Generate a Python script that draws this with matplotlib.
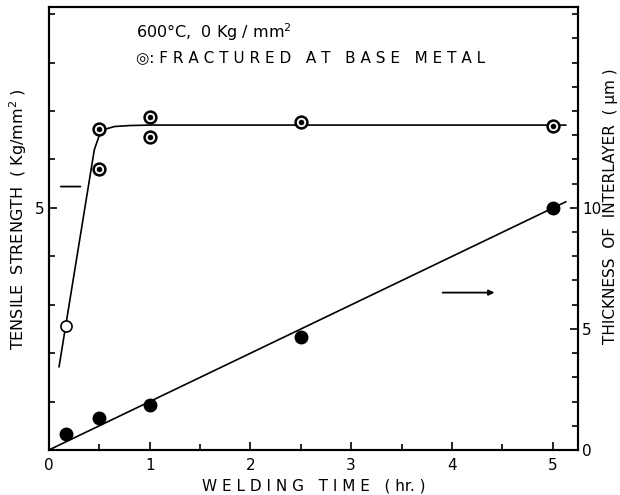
import numpy as np
import matplotlib.pyplot as plt

# tensile strength (Kg/mm2), left axis
ts_open_x = [0.17]
ts_open_y = [2.56]
ts_frac_x = [0.5, 0.5, 1.0, 1.0, 2.5, 5.0]
ts_frac_y = [6.63, 5.8, 6.88, 6.47, 6.78, 6.69]
ts_curve_x = [0.1, 0.45, 0.5, 0.55, 0.65, 0.8, 1.0, 5.13]
ts_curve_y = [1.72, 6.2, 6.5, 6.62, 6.68, 6.7, 6.71, 6.71]

# interlayer thickness (um), right axis
th_x = [0.17, 0.5, 1.0, 2.5, 5.0]
th_y = [0.66, 1.32, 1.86, 4.67, 10.0]
th_line_x = [0.0, 5.13]
th_line_y = [0.0, 10.25]

plt.rcParams['font.family'] = 'DejaVu Sans'
fig = plt.figure(figsize=(6.2, 4.95), dpi=100)
ax = fig.add_axes([0.079, 0.091, 0.853, 0.895])
ax2 = ax.twinx()

ax.plot(ts_curve_x, ts_curve_y, color='black', lw=1.2)
ax.plot(ts_open_x, ts_open_y, 'o', ms=8, mfc='white', mec='black', mew=1.2)
ax.plot(ts_frac_x, ts_frac_y, 'o', ms=8.5, mfc='white', mec='black', mew=1.8)
ax.plot(ts_frac_x, ts_frac_y, 'o', ms=3.5, mfc='black', mec='black', mew=0.5)

ax2.plot(th_line_x, th_line_y, color='black', lw=1.2)
ax2.plot(th_x, th_y, 'o', ms=9, color='black')

ax.set_xlim(0, 5.25)
ax.set_ylim(0, 9.15)
ax2.set_ylim(0, 18.3)

ax.set_xticks([0, 1, 2, 3, 4, 5])
ax.set_xticklabels(['0', '1', '2', '3', '4', '5'])
ax.set_xticks(np.arange(0.5, 5.1, 1.0), minor=True)
ax.set_yticks([5])
ax.set_yticks([1, 2, 3, 4, 6, 7, 8, 9], minor=True)
ax2.set_yticks([0, 5, 10])
ax2.set_yticks([1, 2, 3, 4, 6, 7, 8, 9, 11, 12, 13, 14, 15, 16, 17, 18], minor=True)

for a in (ax, ax2):
    a.tick_params(direction='in', which='both', labelsize=11, width=1.2)
    a.tick_params(which='major', length=6)
    a.tick_params(which='minor', length=4)
    for s in a.spines.values():
        s.set_linewidth(1.5)
ax.tick_params(axis='x', pad=6)
ax2.tick_params(axis='y', pad=3)

ax.set_xlabel('W E L D I N G   T I M E   ( hr. )', fontsize=11)
ax.set_ylabel('TENSILE  STRENGTH  ( Kg/mm$^2$ )', fontsize=11.5, labelpad=4)
ax.yaxis.label.set_y(0.52)
ax2.set_ylabel('THICKNESS  OF  INTERLAYER  ( \u00b5m )', fontsize=11, labelpad=1)
ax2.yaxis.label.set_y(0.55)

ax.text(0.86, 8.5, '600\u00b0C,  0 Kg / mm$^2$', fontsize=11.5)
ax.text(0.86, 8.0, '\u25ce: F R A C T U R E D   A T   B A S E   M E T A L', fontsize=11)

# arrows pointing to each axis
ax.annotate('', xy=(0.09, 5.44), xytext=(0.34, 5.44),
            arrowprops=dict(arrowstyle='-', lw=1.3, color='black'))
ax2.annotate('', xy=(4.45, 6.5), xytext=(3.88, 6.5),
             arrowprops=dict(arrowstyle='-|>', lw=1.3, color='black', mutation_scale=8))

fig.savefig('out.png', dpi=100)
